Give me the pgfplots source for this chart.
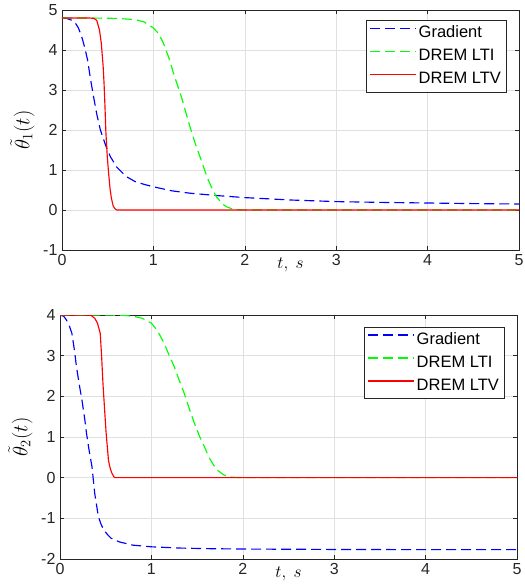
\documentclass[border=0pt]{standalone}
\usepackage{pgfplots}
\pgfplotsset{compat=1.18}
\usepackage{fontspec}
\setmainfont{Liberation Sans}
\definecolor{axgray}{rgb}{0.15,0.15,0.15}
\definecolor{gridgray}{rgb}{0.88,0.88,0.88}
\tikzset{
  gradst/.style={draw=blue, line width=1.15pt, dash pattern=on 10pt off 5pt},
  ltist/.style={draw=green, line width=1.15pt, dash pattern=on 10pt off 5pt},
  ltvst/.style={draw=red, line width=1.15pt, solid},
}
\pgfplotsset{
  mystyle/.style={
    scale only axis, width=457pt, height=240pt,
    xmin=0, xmax=5,
    xtick={0,1,2,3,4,5},
    grid=major, major grid style={draw=gridgray, line width=0.6pt},
    axis line style={draw=axgray, line width=0.6pt},
    tick style={draw=axgray, line width=0.6pt},
    tick align=inside, major tick length=4pt,
    ticklabel style={font=\fontsize{16}{18}\selectfont, text=axgray},
    /pgf/number format/assume math mode=true,
    xticklabel style={yshift=-1pt},
    yticklabel style={xshift=-1pt},
    xlabel={$t,\ s$},
    xlabel style={font=\fontsize{16}{18}\selectfont, at={(rel axis cs:0.5,0)}, anchor=north, yshift=-4pt},
    ylabel style={font=\fontsize{21}{24}\selectfont, at={(rel axis cs:0,0.5)}, anchor=south, yshift=24pt},
    legend style={anchor=north east, draw=axgray, line width=0.6pt,
      font=\fontsize{16.5}{19}\selectfont, text=black,
      inner xsep=3pt, inner ysep=4pt, row sep=5.5pt,
      nodes={inner xsep=2pt, inner ysep=1pt, text height=12pt, text depth=3.5pt}},
    legend cell align=left,
    legend image code/.code={\draw[#1] (0pt,5pt) -- (46pt,5pt);},
  },
}
\begin{document}
\begin{tikzpicture}
\useasboundingbox (0,0) rectangle (524pt,-588pt);
\begin{axis}[mystyle, at={(62pt,-250pt)}, anchor=south west,
  ymin=-1, ymax=5, ytick={-1,0,1,2,3,4,5},
  ylabel={$\tilde{\theta}_1(t)$},
  legend style={at={(rel axis cs:0.972,0.958)}}]
\addplot[gradst] coordinates {
(0,4.8)(0.05,4.79)(0.1,4.75)(0.15,4.66)(0.18,4.55)(0.22,4.3)(0.25,4.05)(0.28,3.75)(0.31,3.3)(0.34,2.9)(0.38,2.4)(0.42,2.0)(0.48,1.6)(0.53,1.33)(0.6,1.07)(0.7,0.84)(0.8,0.71)(0.9,0.64)(1.0,0.58)(1.2,0.48)(1.4,0.42)(1.7,0.36)(2.0,0.31)(2.5,0.25)(3,0.21)(3.5,0.19)(4,0.175)(4.5,0.16)(5,0.15)};
\addlegendentry{Gradient}
\addplot[ltist] coordinates {
(0,4.8)(0.3,4.8)(0.6,4.79)(0.8,4.76)(0.9,4.7)(1.0,4.55)(1.06,4.4)(1.11,4.17)(1.17,3.8)(1.22,3.42)(1.31,2.8)(1.4,2.08)(1.46,1.65)(1.51,1.33)(1.56,1.0)(1.6,0.75)(1.65,0.5)(1.69,0.33)(1.75,0.16)(1.8,0.08)(1.86,0.03)(1.92,0.01)(2.0,0)(5,0)};
\addlegendentry{DREM LTI}
\addplot[ltvst] coordinates {
(0,4.8)(0.3,4.8)(0.35,4.79)(0.38,4.74)(0.41,4.5)(0.43,4.17)(0.45,3.6)(0.46,3.17)(0.47,2.6)(0.48,1.95)(0.495,1.35)(0.51,0.92)(0.525,0.55)(0.54,0.3)(0.56,0.1)(0.58,0.03)(0.6,0)(5,0)};
\addlegendentry{DREM LTV}
\end{axis}
\begin{axis}[mystyle, at={(60pt,-559pt)}, anchor=south west,
  height=244pt,
  ymin=-2, ymax=4, ytick={-2,-1,0,1,2,3,4},
  ylabel={$\tilde{\theta}_2(t)$},
  legend style={at={(rel axis cs:0.972,0.951)}}]
\addplot[gradst] coordinates {
(0,4)(0.04,3.97)(0.07,3.88)(0.1,3.75)(0.13,3.55)(0.16,3.1)(0.18,2.73)(0.21,2.3)(0.24,1.91)(0.27,1.45)(0.29,1.09)(0.32,0.65)(0.35,0.27)(0.38,-0.39)(0.42,-0.96)(0.45,-1.15)(0.48,-1.29)(0.52,-1.4)(0.56,-1.49)(0.65,-1.58)(0.8,-1.66)(1.0,-1.70)(1.3,-1.73)(1.6,-1.745)(2,-1.755)(3,-1.765)(4,-1.77)(5,-1.77)};
\addlegendentry{Gradient}
\addplot[ltist] coordinates {
(0,4)(0.5,4)(0.7,3.99)(0.8,3.97)(0.9,3.92)(1.0,3.8)(1.07,3.6)(1.14,3.3)(1.2,2.98)(1.25,2.73)(1.3,2.42)(1.36,2.07)(1.42,1.66)(1.47,1.34)(1.53,1.0)(1.58,0.76)(1.63,0.5)(1.68,0.31)(1.73,0.17)(1.79,0.07)(1.85,0.02)(1.9,0.01)(2.0,0)(5,0)};
\addlegendentry{DREM LTI}
\addplot[ltvst] coordinates {
(0,4)(0.3,4)(0.34,3.99)(0.38,3.92)(0.41,3.8)(0.44,3.55)(0.455,3.0)(0.47,2.32)(0.49,1.6)(0.505,1.09)(0.52,0.7)(0.53,0.43)(0.55,0.22)(0.57,0.1)(0.59,0.02)(0.6,0)(5,0)};
\addlegendentry{DREM LTV}
\end{axis}
\end{tikzpicture}
\end{document}
